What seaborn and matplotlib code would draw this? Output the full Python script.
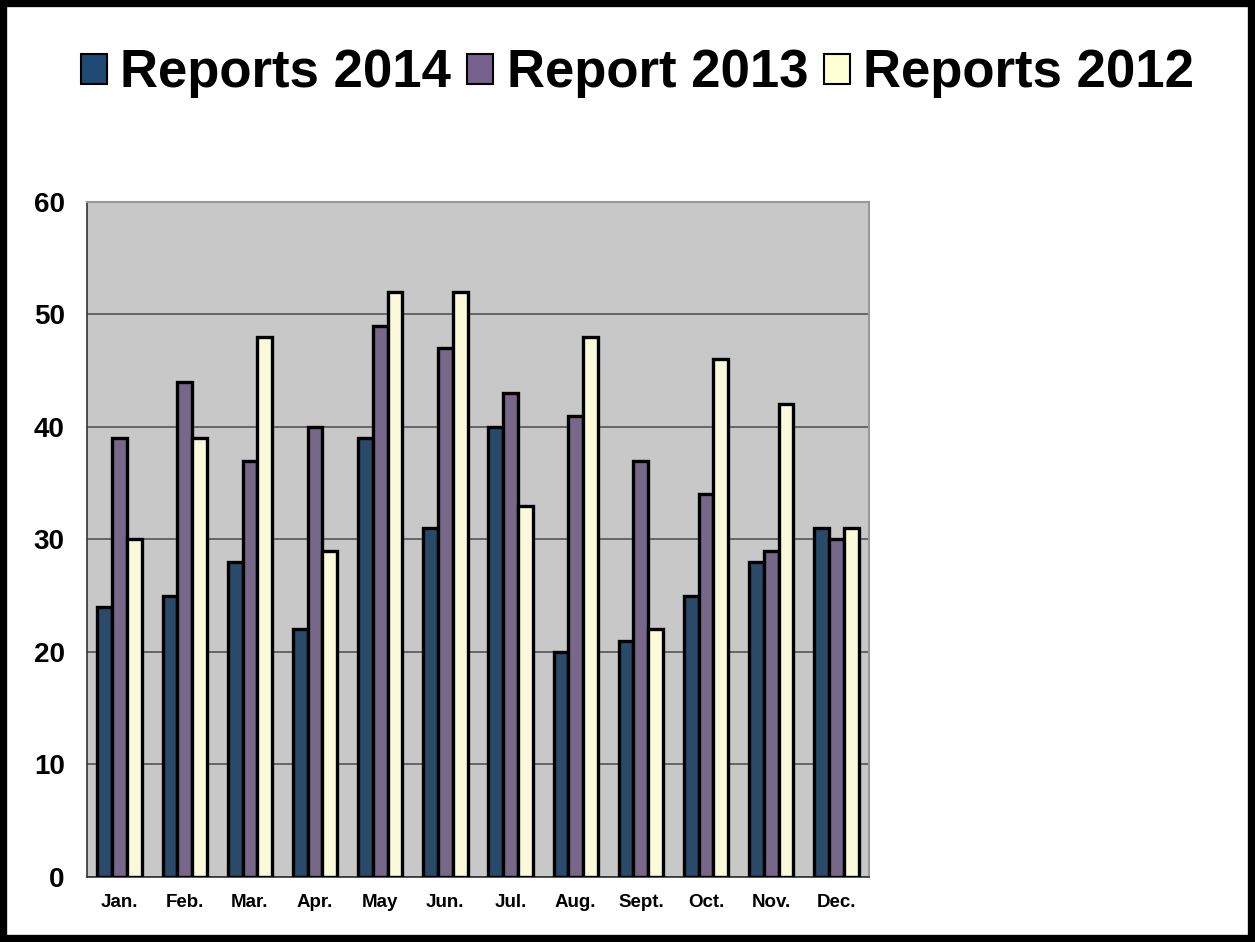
import matplotlib
matplotlib.use('Agg')
import matplotlib.pyplot as plt
import seaborn as sns
import pandas as pd
import numpy as np
from matplotlib.patches import Rectangle

months = ['Jan.', 'Feb.', 'Mar.', 'Apr.', 'May', 'Jun.', 'Jul.', 'Aug.', 'Sept.', 'Oct.', 'Nov.', 'Dec.']
series_names = ['Reports 2014', 'Report 2013', 'Reports 2012']
reports_2014 = [24, 25, 28, 22, 39, 31, 40, 20, 21, 25, 28, 31]
report_2013 = [39, 44, 37, 40, 49, 47, 43, 41, 37, 34, 29, 30]
reports_2012 = [30, 39, 48, 29, 52, 52, 33, 48, 22, 46, 42, 31]
colors = ['#1F4A73', '#77618F', '#FFFFD5']

df = pd.DataFrame({
    'month': months * 3,
    'series': [series_names[0]] * 12 + [series_names[1]] * 12 + [series_names[2]] * 12,
    'value': reports_2014 + report_2013 + reports_2012,
})

sns.set_style('white')
plt.rcParams['font.family'] = ['Liberation Sans', 'DejaVu Sans']
plt.rcParams['text.color'] = 'black'
plt.rcParams['xtick.color'] = 'black'
plt.rcParams['ytick.color'] = 'black'

fig = plt.figure(figsize=(12.55, 9.42), dpi=100)
ax = fig.add_axes([0.0693, 0.069, 0.6231, 0.7166])
ax.set_facecolor('#C8C8C8')

sns.barplot(data=df, x='month', y='value', hue='series', order=months,
            hue_order=series_names, palette=colors, width=0.68, gap=0,
            edgecolor='black', linewidth=2.4, ax=ax, zorder=3)

ax.set_ylim(0, 60)
ax.set_xlim(-0.5, 11.5)
ax.set_yticks(range(0, 61, 10))
ax.yaxis.grid(True, color='#555555', linewidth=1.2, zorder=0)
ax.set_axisbelow(True)
ax.set_xlabel('')
ax.set_ylabel('')

# tick marks between categories only
ax.set_xticks(np.arange(-0.5, 12, 1), minor=True)
ax.tick_params(axis='x', which='major', length=0, pad=12, labelsize=13.5)
ax.tick_params(axis='x', which='minor', length=6, width=1.2, direction='out', color='#333333')
ax.tick_params(axis='y', which='major', length=6, width=1.2, direction='out', color='#333333',
               labelsize=20, pad=10)
for lab in ax.get_xticklabels() + ax.get_yticklabels():
    lab.set_fontweight('bold')

for side in ['left', 'bottom']:
    ax.spines[side].set_color('#333333')
    ax.spines[side].set_linewidth(1.2)
for side in ['right', 'top']:
    ax.spines[side].set_color('#999999')
    ax.spines[side].set_linewidth(1.5)

ax.legend_.remove()
handles = [Rectangle((0, 0), 1, 1, facecolor=c, edgecolor='black', linewidth=1.5) for c in colors]
fig.legend(handles, series_names, loc='upper center', bbox_to_anchor=(0.508, 0.999),
           ncol=3, frameon=False, prop={'size': 38, 'weight': 'bold'},
           handlelength=0.5, handleheight=0.5, handletextpad=0.25, columnspacing=0.3)

# black border around the whole picture
fig.patches.append(Rectangle((0.002, 0.003), 0.996, 0.994, transform=fig.transFigure,
                             fill=False, edgecolor='black', linewidth=6))

fig.savefig('out.png', dpi=100)
